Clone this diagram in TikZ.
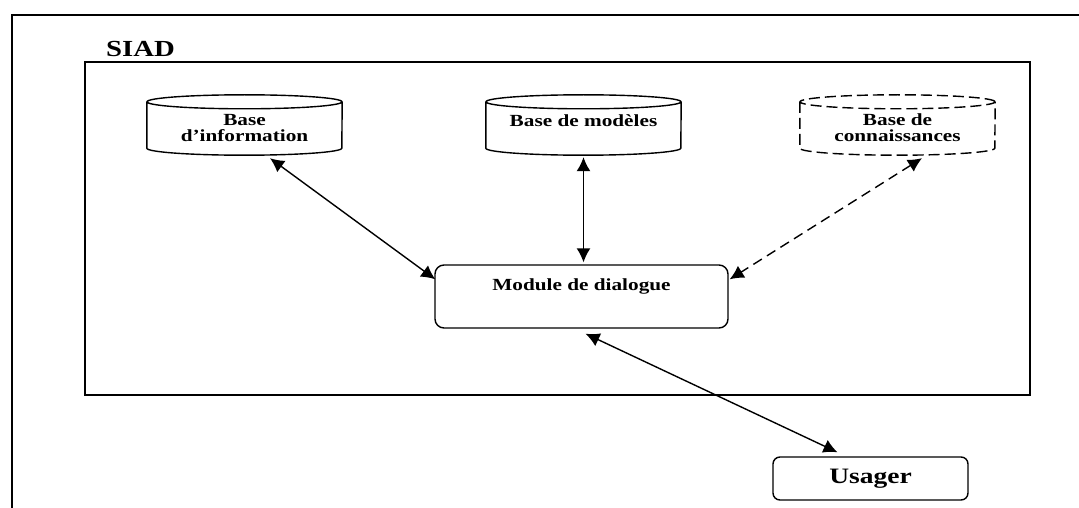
\documentclass[tikz,border=0pt]{standalone}
\usepackage{fontspec}
\setmainfont{Liberation Serif}[FakeStretch=1.25]
\usetikzlibrary{arrows.meta}

% cylinder outline around a named node: top ellipse, sides, front bottom arc
\newcommand\drumoutline[2]{%
  \draw[drumline,#2] ([yshift=-7pt]#1.north) ellipse [x radius=97.5pt, y radius=7pt]
    ([yshift=-7pt]#1.north west) -- ([yshift=7pt]#1.south west)
    arc[start angle=180, end angle=360, x radius=97.5pt, y radius=7pt]
    -- ([yshift=-7pt]#1.north east);
}

\begin{document}
\begin{tikzpicture}[x=1pt,y=-1pt,
  frameline/.style={line width=1.6pt},
  drumline/.style={line width=1.4pt},
  drumbox/.style={minimum width=195pt, inner sep=0pt, align=center, anchor=base,
    font=\fontsize{17}{16}\selectfont\bfseries},
  modbox/.style={draw, line width=1.4pt, rounded corners=9pt, inner sep=0pt, anchor=base,
    minimum width=293pt, text height=25pt, text depth=38pt,
    font=\fontsize{17}{18}\selectfont\bfseries},
  userbox/.style={draw, line width=1.4pt, rounded corners=7pt, inner sep=0pt, anchor=base,
    minimum width=195pt, text height=26pt, text depth=17pt,
    font=\fontsize{22}{24}\selectfont\bfseries},
  link/.style={line width=1.4pt, {Latex[length=14pt,width=14pt]}-{Latex[length=14pt,width=14pt]}},
  softlink/.style={link, dash pattern=on 10pt off 6pt}
]
\useasboundingbox (0,0) rectangle (1079,508);

% outer page frame (only top and left edges in view)
\draw[frameline] (1079,15) -- (12,15) -- (12,508);

% system boundary and its title
\node[draw, frameline, inner sep=0pt, minimum width=945pt, minimum height=333pt] (sys) at (557.5,228.5) {};
\node[anchor=base west, inner sep=0pt, font=\fontsize{23}{24}\selectfont\bfseries] (siad) at (106,57) {SIAD};

% the three bases (two-line labels sit on their last baseline)
\node[drumbox, text height=47pt, text depth=13pt] (bi) at (244.5,142) {Base\\d'information};
\node[drumbox, text height=32pt, text depth=28pt] (bm) at (583.5,127) {Base de modèles};
\node[drumbox, text height=47pt, text depth=13pt] (bc) at (897.5,142) {Base de\\connaissances};
\drumoutline{bi}{}
\drumoutline{bm}{}
\drumoutline{bc}{dash pattern=on 11pt off 5pt}

% dialogue module and user
\node[modbox] (mod) at (581.5,290) {Module de dialogue};
\node[userbox] (us) at (870.5,483) {Usager};

% exchanges
\draw[link] ([shift={(25.5pt,-3pt)}]bi.south) -- ([shift={(1pt,-15pt)}]mod.north west);
\draw[link] ([yshift=-2pt]bm.south) -- ([yshift=2pt]bm.south |- mod.north);
\draw[softlink] ([shift={(24.5pt,-3pt)}]bc.south) -- ([shift={(1pt,-15pt)}]mod.north east);
\draw[link] ([shift={(4pt,-5pt)}]mod.south) -- ([shift={(-33pt,4pt)}]us.north);
\end{tikzpicture}
\end{document}
